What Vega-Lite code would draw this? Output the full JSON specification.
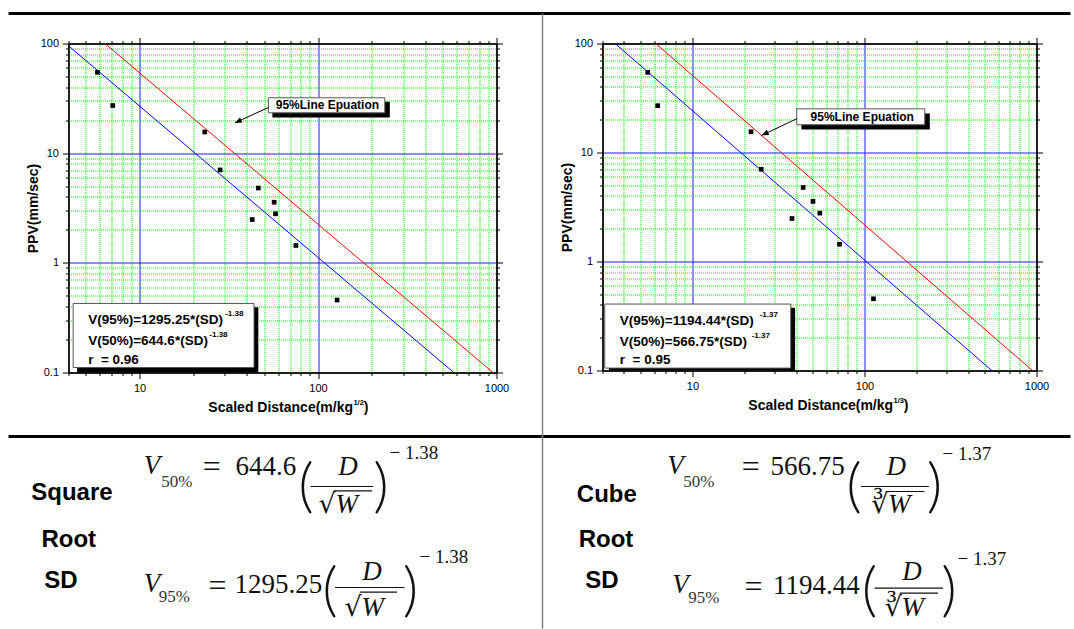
{
"$schema":"https://vega.github.io/schema/vega-lite/v6.json",
"padding":{"left":6.5,"top":10.5,"right":0,"bottom":0},
"background":"white",
"config":{"font":"Liberation Sans","view":{"stroke":null}},
"datasets":{
"sqrtPoints":[{"sd":5.81,"ppv":54.6},{"sd":7.08,"ppv":27.2},{"sd":23.2,"ppv":15.6},{"sd":28.3,"ppv":7.03},{"sd":46.3,"ppv":4.81},{"sd":42.8,"ppv":2.48},{"sd":56.8,"ppv":3.57},{"sd":57.8,"ppv":2.8},{"sd":75.2,"ppv":1.44},{"sd":127.9,"ppv":0.458}],
"sqrtLines":[{"series":"50%","sd":4,"ppv":95.2},{"series":"50%","sd":576,"ppv":0.1},{"series":"95%","sd":6.4,"ppv":100},{"series":"95%","sd":954.8,"ppv":0.1}],
"cubePoints":[{"sd":5.5,"ppv":54.4},{"sd":6.28,"ppv":26.9},{"sd":21.9,"ppv":15.5},{"sd":25.1,"ppv":7.02},{"sd":44.0,"ppv":4.78},{"sd":37.9,"ppv":2.48},{"sd":50.2,"ppv":3.56},{"sd":55.0,"ppv":2.78},{"sd":71.6,"ppv":1.44},{"sd":112.8,"ppv":0.455}],
"cubeLines":[{"series":"50%","sd":3.55,"ppv":100},{"series":"50%","sd":549.3,"ppv":0.1},{"series":"95%","sd":6.11,"ppv":100},{"series":"95%","sd":946,"ppv":0.1}]
},
"columns":2,
"spacing":{"row":62,"column":106},
"bounds":"flush",
"align":"each",
"resolve":{"scale":{"x":"independent","y":"independent","color":"independent"}},
"concat":[
{
"width":428,"height":329,
"view":{"stroke":"black","strokeWidth":1},
"resolve":{"axis":{"x":"independent","y":"independent"}},
"layer":[
{"data":{"name":"sqrtLines"},"mark":{"type":"line","strokeWidth":1},
"encoding":{
"x":{"field":"sd","type":"quantitative","scale":{"type":"log","domain":[4,1000],"nice":false},"axis":{"orient":"top","values":[4,5,6,7,8,9,10,20,30,40,50,60,70,80,90,100,200,300,400,500,600,700,800,900,1000],"labels":false,"grid":false,"tickColor":"black","tickSize":{"condition":{"test":"datum.value==10||datum.value==100||datum.value==1000","value":6},"value":3},"domainColor":"black","title":null}},
"y":{"field":"ppv","type":"quantitative","scale":{"type":"log","domain":[0.1,100],"nice":false},"axis":{"orient":"right","values":[0.1,0.2,0.3,0.4,0.5,0.6,0.7,0.8,0.9,1,2,3,4,5,6,7,8,9,10,20,30,40,50,60,70,80,90,100],"labels":false,"grid":false,"tickColor":"black","tickSize":{"condition":{"test":"datum.value==0.1||datum.value==1||datum.value==10||datum.value==100","value":6},"value":3},"domainColor":"black","title":null}},
"color":{"field":"series","type":"nominal","scale":{"domain":["50%","95%"],"range":["#0000ff","#ff0000"]},"legend":null}}},
{"data":{"name":"sqrtPoints"},"mark":{"type":"point","shape":"square","filled":true,"color":"black","size":22,"opacity":1},
"encoding":{
"x":{"field":"sd","type":"quantitative","scale":{"type":"log","domain":[4,1000],"nice":false},"axis":{"orient":"bottom","values":[4,5,6,7,8,9,10,20,30,40,50,60,70,80,90,100,200,300,400,500,600,700,800,900,1000],"format":"~g","labelExpr":"datum.value==10||datum.value==100||datum.value==1000?datum.label:''","labelFont":"Liberation Sans","labelFontSize":11,"labelColor":"black","labelPadding":4,"labelFlush":false,"labelOverlap":false,"grid":true,"gridColor":{"condition":[{"test":"datum.value==10||datum.value==100","value":"#1a1aff"},{"test":"datum.value==4||datum.value==1000","value":"#000000"}],"value":"#00ff00"},"gridDash":{"condition":{"test":"datum.value==10||datum.value==100||datum.value==4||datum.value==1000","value":[]},"value":[1,1]},"tickColor":"black","tickSize":{"condition":{"test":"datum.value==10||datum.value==100||datum.value==1000","value":6},"value":3},"domainColor":"black","title":null}},
"y":{"field":"ppv","type":"quantitative","scale":{"type":"log","domain":[0.1,100],"nice":false},"axis":{"orient":"left","values":[0.1,0.2,0.3,0.4,0.5,0.6,0.7,0.8,0.9,1,2,3,4,5,6,7,8,9,10,20,30,40,50,60,70,80,90,100],"format":"~g","labelExpr":"datum.value==0.1||datum.value==1||datum.value==10||datum.value==100?datum.label:''","labelFont":"Liberation Sans","labelFontSize":11,"labelColor":"black","labelPadding":4,"labelFlush":false,"labelOverlap":false,"grid":true,"gridColor":{"condition":[{"test":"datum.value==1||datum.value==10","value":"#1a1aff"},{"test":"datum.value==0.1||datum.value==100","value":"#000000"}],"value":"#00ff00"},"gridDash":{"condition":{"test":"datum.value==1||datum.value==10||datum.value==0.1||datum.value==100","value":[]},"value":[1,1]},"tickColor":"black","tickSize":{"condition":{"test":"datum.value==0.1||datum.value==1||datum.value==10||datum.value==100","value":6},"value":3},"domainColor":"black","title":"PPV(mm/sec)","titleFont":"Liberation Sans","titleFontSize":14,"titleFontWeight":"bold","titleColor":"black","titlePadding":0}}}},
{"data":{"values":[{}]},"mark":{"type":"rule","color":"black","strokeWidth":3},"encoding":{"x":{"datum":1.845,"type":"quantitative","scale":{"type":"log","domain":[4,1000],"nice":false},"axis":null},"x2":{"datum":1643600},"y":{"datum":187.8,"type":"quantitative","scale":{"type":"log","domain":[0.1,100],"nice":false},"axis":null}}},
{"data":{"values":[{}]},"mark":{"type":"rule","color":"black","strokeWidth":3},"encoding":{"x":{"datum":1.845,"type":"quantitative","scale":{"type":"log","domain":[4,1000],"nice":false},"axis":null},"x2":{"datum":1643600},"y":{"datum":0.026094,"type":"quantitative","scale":{"type":"log","domain":[0.1,100],"nice":false},"axis":null}}},
{"data":{"values":[{}]},"mark":{"type":"rule","color":"#808080","strokeWidth":1.5},"encoding":{"x":{"datum":1810.1,"type":"quantitative","scale":{"type":"log","domain":[4,1000],"nice":false},"axis":null},"y":{"datum":187.8,"type":"quantitative","scale":{"type":"log","domain":[0.1,100],"nice":false},"axis":null},"y2":{"datum":0.0004632}}},
{"data":{"values":[{}]},"mark":{"type":"rect","color":"black"},"encoding":{"x":{"datum":4.47,"type":"quantitative","scale":{"type":"log","domain":[4,1000],"nice":false},"axis":null},"x2":{"datum":46.3},"y":{"datum":0.3943,"type":"quantitative","scale":{"type":"log","domain":[0.1,100],"nice":false},"axis":null},"y2":{"datum":0.1}}},
{"data":{"values":[{}]},"mark":{"type":"rect","fill":"white","stroke":"#555555","strokeWidth":1},"encoding":{"x":{"datum":4.25,"type":"quantitative","scale":{"type":"log","domain":[4,1000],"nice":false},"axis":null},"x2":{"datum":43.8},"y":{"datum":0.4263,"type":"quantitative","scale":{"type":"log","domain":[0.1,100],"nice":false},"axis":null},"y2":{"datum":0.1111}}},
{"data":{"values":[{}]},"mark":{"type":"text","text":"V(95%)=1295.25*(SD)","font":"Liberation Sans","fontWeight":"bold","fontSize":13.5,"align":"left","baseline":"middle","color":"black"},"encoding":{"x":{"datum":5.157,"type":"quantitative","scale":{"type":"log","domain":[4,1000],"nice":false},"axis":null},"y":{"datum":0.304,"type":"quantitative","scale":{"type":"log","domain":[0.1,100],"nice":false},"axis":null}}},
{"data":{"values":[{}]},"mark":{"type":"text","text":"V(50%)=644.6*(SD)","font":"Liberation Sans","fontWeight":"bold","fontSize":13.5,"align":"left","baseline":"middle","color":"black"},"encoding":{"x":{"datum":5.157,"type":"quantitative","scale":{"type":"log","domain":[4,1000],"nice":false},"axis":null},"y":{"datum":0.1924,"type":"quantitative","scale":{"type":"log","domain":[0.1,100],"nice":false},"axis":null}}},
{"data":{"values":[{}]},"mark":{"type":"text","text":"r \u00a0= 0.96","font":"Liberation Sans","fontWeight":"bold","fontSize":13.5,"align":"left","baseline":"middle","color":"black"},"encoding":{"x":{"datum":5.157,"type":"quantitative","scale":{"type":"log","domain":[4,1000],"nice":false},"axis":null},"y":{"datum":0.1307,"type":"quantitative","scale":{"type":"log","domain":[0.1,100],"nice":false},"axis":null}}},
{"data":{"values":[{}]},"mark":{"type":"text","text":"-1.38","font":"Liberation Sans","fontWeight":"bold","fontSize":8,"align":"left","baseline":"middle","color":"black"},"encoding":{"x":{"datum":30.2,"type":"quantitative","scale":{"type":"log","domain":[4,1000],"nice":false},"axis":null},"y":{"datum":0.338,"type":"quantitative","scale":{"type":"log","domain":[0.1,100],"nice":false},"axis":null}}},
{"data":{"values":[{}]},"mark":{"type":"text","text":"-1.38","font":"Liberation Sans","fontWeight":"bold","fontSize":8,"align":"left","baseline":"middle","color":"black"},"encoding":{"x":{"datum":24.6,"type":"quantitative","scale":{"type":"log","domain":[4,1000],"nice":false},"axis":null},"y":{"datum":0.2216,"type":"quantitative","scale":{"type":"log","domain":[0.1,100],"nice":false},"axis":null}}},
{"data":{"values":[{}]},"mark":{"type":"rect","color":"black"},"encoding":{"x":{"datum":55.5,"type":"quantitative","scale":{"type":"log","domain":[4,1000],"nice":false},"axis":null},"x2":{"datum":252.5},"y":{"datum":29.4,"type":"quantitative","scale":{"type":"log","domain":[0.1,100],"nice":false},"axis":null},"y2":{"datum":21.2}}},
{"data":{"values":[{}]},"mark":{"type":"rect","fill":"white","stroke":"#555555","strokeWidth":1},"encoding":{"x":{"datum":52.7,"type":"quantitative","scale":{"type":"log","domain":[4,1000],"nice":false},"axis":null},"x2":{"datum":236.7},"y":{"datum":31.99,"type":"quantitative","scale":{"type":"log","domain":[0.1,100],"nice":false},"axis":null},"y2":{"datum":23.32}}},
{"data":{"values":[{}]},"mark":{"type":"text","text":"95%Line Epuation","font":"Liberation Sans","fontWeight":"bold","fontSize":12,"align":"center","baseline":"middle","color":"black"},"encoding":{"x":{"datum":112.9,"type":"quantitative","scale":{"type":"log","domain":[4,1000],"nice":false},"axis":null},"y":{"datum":27.25,"type":"quantitative","scale":{"type":"log","domain":[0.1,100],"nice":false},"axis":null}}},
{"data":{"values":[{}]},"mark":{"type":"rule","color":"black","strokeWidth":1},"encoding":{"x":{"datum":52.7,"type":"quantitative","scale":{"type":"log","domain":[4,1000],"nice":false},"axis":null},"x2":{"datum":34.2},"y":{"datum":26.1,"type":"quantitative","scale":{"type":"log","domain":[0.1,100],"nice":false},"axis":null},"y2":{"datum":18.88}}},
{"data":{"values":[{}]},"mark":{"type":"point","shape":"M0,0L-1,-0.4L-1,0.4Z","filled":true,"color":"black","opacity":1,"size":196,"angle":155},"encoding":{"x":{"datum":34.2,"type":"quantitative","scale":{"type":"log","domain":[4,1000],"nice":false},"axis":null},"y":{"datum":18.88,"type":"quantitative","scale":{"type":"log","domain":[0.1,100],"nice":false},"axis":null}}},
{"data":{"values":[{}]},"mark":{"type":"text","text":"Scaled Distance(m/kg","font":"Liberation Sans","fontWeight":"bold","fontSize":14,"align":"right","baseline":"middle","color":"black"},"encoding":{"x":{"datum":157.1,"type":"quantitative","scale":{"type":"log","domain":[4,1000],"nice":false},"axis":null},"y":{"datum":0.04777,"type":"quantitative","scale":{"type":"log","domain":[0.1,100],"nice":false},"axis":null}}},
{"data":{"values":[{}]},"mark":{"type":"text","text":"1/2","font":"Liberation Sans","fontWeight":"bold","fontSize":7.5,"align":"left","baseline":"middle","color":"black"},"encoding":{"x":{"datum":157.9,"type":"quantitative","scale":{"type":"log","domain":[4,1000],"nice":false},"axis":null},"y":{"datum":0.05232,"type":"quantitative","scale":{"type":"log","domain":[0.1,100],"nice":false},"axis":null}}},
{"data":{"values":[{}]},"mark":{"type":"text","text":")","font":"Liberation Sans","fontWeight":"bold","fontSize":14,"align":"left","baseline":"middle","color":"black"},"encoding":{"x":{"datum":180.4,"type":"quantitative","scale":{"type":"log","domain":[4,1000],"nice":false},"axis":null},"y":{"datum":0.04777,"type":"quantitative","scale":{"type":"log","domain":[0.1,100],"nice":false},"axis":null}}}
]
},
{
"width":434,"height":327,
"view":{"stroke":"black","strokeWidth":1},
"resolve":{"axis":{"x":"independent","y":"independent"}},
"layer":[
{"data":{"name":"cubeLines"},"mark":{"type":"line","strokeWidth":1},
"encoding":{
"x":{"field":"sd","type":"quantitative","scale":{"type":"log","domain":[3,1000],"nice":false},"axis":{"orient":"top","values":[3,4,5,6,7,8,9,10,20,30,40,50,60,70,80,90,100,200,300,400,500,600,700,800,900,1000],"labels":false,"grid":false,"tickColor":"black","tickSize":{"condition":{"test":"datum.value==10||datum.value==100||datum.value==1000","value":6},"value":3},"domainColor":"black","title":null}},
"y":{"field":"ppv","type":"quantitative","scale":{"type":"log","domain":[0.1,100],"nice":false},"axis":{"orient":"right","values":[0.1,0.2,0.3,0.4,0.5,0.6,0.7,0.8,0.9,1,2,3,4,5,6,7,8,9,10,20,30,40,50,60,70,80,90,100],"labels":false,"grid":false,"tickColor":"black","tickSize":{"condition":{"test":"datum.value==0.1||datum.value==1||datum.value==10||datum.value==100","value":6},"value":3},"domainColor":"black","title":null}},
"color":{"field":"series","type":"nominal","scale":{"domain":["50%","95%"],"range":["#0000ff","#ff0000"]},"legend":null}}},
{"data":{"name":"cubePoints"},"mark":{"type":"point","shape":"square","filled":true,"color":"black","size":22,"opacity":1},
"encoding":{
"x":{"field":"sd","type":"quantitative","scale":{"type":"log","domain":[3,1000],"nice":false},"axis":{"orient":"bottom","values":[3,4,5,6,7,8,9,10,20,30,40,50,60,70,80,90,100,200,300,400,500,600,700,800,900,1000],"format":"~g","labelExpr":"datum.value==10||datum.value==100||datum.value==1000?datum.label:''","labelFont":"Liberation Sans","labelFontSize":11,"labelColor":"black","labelPadding":4,"labelFlush":false,"labelOverlap":false,"grid":true,"gridColor":{"condition":[{"test":"datum.value==10||datum.value==100","value":"#1a1aff"},{"test":"datum.value==3||datum.value==1000","value":"#000000"}],"value":"#00ff00"},"gridDash":{"condition":{"test":"datum.value==10||datum.value==100||datum.value==3||datum.value==1000","value":[]},"value":[1,1]},"tickColor":"black","tickSize":{"condition":{"test":"datum.value==10||datum.value==100||datum.value==1000","value":6},"value":3},"domainColor":"black","title":null}},
"y":{"field":"ppv","type":"quantitative","scale":{"type":"log","domain":[0.1,100],"nice":false},"axis":{"orient":"left","values":[0.1,0.2,0.3,0.4,0.5,0.6,0.7,0.8,0.9,1,2,3,4,5,6,7,8,9,10,20,30,40,50,60,70,80,90,100],"format":"~g","labelExpr":"datum.value==0.1||datum.value==1||datum.value==10||datum.value==100?datum.label:''","labelFont":"Liberation Sans","labelFontSize":11,"labelColor":"black","labelPadding":4,"labelFlush":false,"labelOverlap":false,"grid":true,"gridColor":{"condition":[{"test":"datum.value==1||datum.value==10","value":"#1a1aff"},{"test":"datum.value==0.1||datum.value==100","value":"#000000"}],"value":"#00ff00"},"gridDash":{"condition":{"test":"datum.value==1||datum.value==10||datum.value==0.1||datum.value==100","value":[]},"value":[1,1]},"tickColor":"black","tickSize":{"condition":{"test":"datum.value==0.1||datum.value==1||datum.value==10||datum.value==100","value":6},"value":3},"domainColor":"black","title":"PPV(mm/sec)","titleFont":"Liberation Sans","titleFontSize":14,"titleFontWeight":"bold","titleColor":"black","titlePadding":0}}}},
{"data":{"values":[{}]},"mark":{"type":"rect","color":"black"},"encoding":{"x":{"datum":3.27,"type":"quantitative","scale":{"type":"log","domain":[3,1000],"nice":false},"axis":null},"x2":{"datum":39.5},"y":{"datum":0.3763,"type":"quantitative","scale":{"type":"log","domain":[0.1,100],"nice":false},"axis":null},"y2":{"datum":0.1}}},
{"data":{"values":[{}]},"mark":{"type":"rect","fill":"white","stroke":"#555555","strokeWidth":1},"encoding":{"x":{"datum":3.09,"type":"quantitative","scale":{"type":"log","domain":[3,1000],"nice":false},"axis":null},"x2":{"datum":37.27},"y":{"datum":0.407,"type":"quantitative","scale":{"type":"log","domain":[0.1,100],"nice":false},"axis":null},"y2":{"datum":0.1052}}},
{"data":{"values":[{}]},"mark":{"type":"text","text":"V(95%)=1194.44*(SD)","font":"Liberation Sans","fontWeight":"bold","fontSize":13.5,"align":"left","baseline":"middle","color":"black"},"encoding":{"x":{"datum":3.78,"type":"quantitative","scale":{"type":"log","domain":[3,1000],"nice":false},"axis":null},"y":{"datum":0.2847,"type":"quantitative","scale":{"type":"log","domain":[0.1,100],"nice":false},"axis":null}}},
{"data":{"values":[{}]},"mark":{"type":"text","text":"V(50%)=566.75*(SD)","font":"Liberation Sans","fontWeight":"bold","fontSize":13.5,"align":"left","baseline":"middle","color":"black"},"encoding":{"x":{"datum":3.78,"type":"quantitative","scale":{"type":"log","domain":[3,1000],"nice":false},"axis":null},"y":{"datum":0.1843,"type":"quantitative","scale":{"type":"log","domain":[0.1,100],"nice":false},"axis":null}}},
{"data":{"values":[{}]},"mark":{"type":"text","text":"r \u00a0= 0.95","font":"Liberation Sans","fontWeight":"bold","fontSize":13.5,"align":"left","baseline":"middle","color":"black"},"encoding":{"x":{"datum":3.78,"type":"quantitative","scale":{"type":"log","domain":[3,1000],"nice":false},"axis":null},"y":{"datum":0.1237,"type":"quantitative","scale":{"type":"log","domain":[0.1,100],"nice":false},"axis":null}}},
{"data":{"values":[{}]},"mark":{"type":"text","text":"-1.37","font":"Liberation Sans","fontWeight":"bold","fontSize":8,"align":"left","baseline":"middle","color":"black"},"encoding":{"x":{"datum":24.6,"type":"quantitative","scale":{"type":"log","domain":[3,1000],"nice":false},"axis":null},"y":{"datum":0.3229,"type":"quantitative","scale":{"type":"log","domain":[0.1,100],"nice":false},"axis":null}}},
{"data":{"values":[{}]},"mark":{"type":"text","text":"-1.37","font":"Liberation Sans","fontWeight":"bold","fontSize":8,"align":"left","baseline":"middle","color":"black"},"encoding":{"x":{"datum":22.1,"type":"quantitative","scale":{"type":"log","domain":[3,1000],"nice":false},"axis":null},"y":{"datum":0.2078,"type":"quantitative","scale":{"type":"log","domain":[0.1,100],"nice":false},"axis":null}}},
{"data":{"values":[{}]},"mark":{"type":"rect","color":"black"},"encoding":{"x":{"datum":43.0,"type":"quantitative","scale":{"type":"log","domain":[3,1000],"nice":false},"axis":null},"x2":{"datum":239.8},"y":{"datum":22.79,"type":"quantitative","scale":{"type":"log","domain":[0.1,100],"nice":false},"axis":null},"y2":{"datum":16.28}}},
{"data":{"values":[{}]},"mark":{"type":"rect","fill":"white","stroke":"#555555","strokeWidth":1},"encoding":{"x":{"datum":40.4,"type":"quantitative","scale":{"type":"log","domain":[3,1000],"nice":false},"axis":null},"x2":{"datum":224.2},"y":{"datum":25.15,"type":"quantitative","scale":{"type":"log","domain":[0.1,100],"nice":false},"axis":null},"y2":{"datum":17.97}}},
{"data":{"values":[{}]},"mark":{"type":"text","text":"95%Line Epuation","font":"Liberation Sans","fontWeight":"bold","fontSize":12,"align":"center","baseline":"middle","color":"black"},"encoding":{"x":{"datum":97.1,"type":"quantitative","scale":{"type":"log","domain":[3,1000],"nice":false},"axis":null},"y":{"datum":21.13,"type":"quantitative","scale":{"type":"log","domain":[0.1,100],"nice":false},"axis":null}}},
{"data":{"values":[{}]},"mark":{"type":"rule","color":"black","strokeWidth":1},"encoding":{"x":{"datum":40.4,"type":"quantitative","scale":{"type":"log","domain":[3,1000],"nice":false},"axis":null},"x2":{"datum":25.28},"y":{"datum":20.39,"type":"quantitative","scale":{"type":"log","domain":[0.1,100],"nice":false},"axis":null},"y2":{"datum":14.36}}},
{"data":{"values":[{}]},"mark":{"type":"point","shape":"M0,0L-1,-0.4L-1,0.4Z","filled":true,"color":"black","opacity":1,"size":196,"angle":154.5},"encoding":{"x":{"datum":25.28,"type":"quantitative","scale":{"type":"log","domain":[3,1000],"nice":false},"axis":null},"y":{"datum":14.36,"type":"quantitative","scale":{"type":"log","domain":[0.1,100],"nice":false},"axis":null}}},
{"data":{"values":[{}]},"mark":{"type":"text","text":"Scaled Distance(m/kg","font":"Liberation Sans","fontWeight":"bold","fontSize":14,"align":"right","baseline":"middle","color":"black"},"encoding":{"x":{"datum":146.7,"type":"quantitative","scale":{"type":"log","domain":[3,1000],"nice":false},"axis":null},"y":{"datum":0.04702,"type":"quantitative","scale":{"type":"log","domain":[0.1,100],"nice":false},"axis":null}}},
{"data":{"values":[{}]},"mark":{"type":"text","text":"1/3","font":"Liberation Sans","fontWeight":"bold","fontSize":7.5,"align":"left","baseline":"middle","color":"black"},"encoding":{"x":{"datum":147.4,"type":"quantitative","scale":{"type":"log","domain":[3,1000],"nice":false},"axis":null},"y":{"datum":0.05225,"type":"quantitative","scale":{"type":"log","domain":[0.1,100],"nice":false},"axis":null}}},
{"data":{"values":[{}]},"mark":{"type":"text","text":")","font":"Liberation Sans","fontWeight":"bold","fontSize":14,"align":"left","baseline":"middle","color":"black"},"encoding":{"x":{"datum":169.2,"type":"quantitative","scale":{"type":"log","domain":[3,1000],"nice":false},"axis":null},"y":{"datum":0.04702,"type":"quantitative","scale":{"type":"log","domain":[0.1,100],"nice":false},"axis":null}}}
]
},
{
"width":428,"height":190,
"view":{"stroke":null},
"data":{"values":[{}]},
"layer":[
{"mark":{"type":"text","text":"Square","font":"Liberation Sans","fontWeight":"bold","fontSize":24,"align":"center","baseline":"alphabetic","color":"black"},"encoding":{"x":{"datum":3.4,"type":"quantitative","scale":{"domain":[0,428],"nice":false,"zero":false},"axis":null},"y":{"datum":65.3,"type":"quantitative","scale":{"domain":[0,190],"reverse":true,"nice":false,"zero":false},"axis":null}}},
{"mark":{"type":"text","text":"Root","font":"Liberation Sans","fontWeight":"bold","fontSize":24,"align":"center","baseline":"alphabetic","color":"black"},"encoding":{"x":{"datum":0.3,"type":"quantitative","scale":{"domain":[0,428],"nice":false,"zero":false},"axis":null},"y":{"datum":112,"type":"quantitative","scale":{"domain":[0,190],"reverse":true,"nice":false,"zero":false},"axis":null}}},
{"mark":{"type":"text","text":"SD","font":"Liberation Sans","fontWeight":"bold","fontSize":24,"align":"center","baseline":"alphabetic","color":"black"},"encoding":{"x":{"datum":-7.7,"type":"quantitative","scale":{"domain":[0,428],"nice":false,"zero":false},"axis":null},"y":{"datum":153.7,"type":"quantitative","scale":{"domain":[0,190],"reverse":true,"nice":false,"zero":false},"axis":null}}},
{"mark":{"type":"text","text":"V","font":"Liberation Serif","fontStyle":"italic","fontSize":27,"align":"left","baseline":"alphabetic","color":"#111111"},"encoding":{"x":{"datum":75.3,"type":"quantitative","scale":{"domain":[0,428],"nice":false,"zero":false},"axis":null},"y":{"datum":39.7,"type":"quantitative","scale":{"domain":[0,190],"reverse":true,"nice":false,"zero":false},"axis":null}}},
{"mark":{"type":"text","text":"50%","font":"Liberation Serif","fontSize":17,"align":"left","baseline":"alphabetic","color":"#333333"},"encoding":{"x":{"datum":92.7,"type":"quantitative","scale":{"domain":[0,428],"nice":false,"zero":false},"axis":null},"y":{"datum":52,"type":"quantitative","scale":{"domain":[0,190],"reverse":true,"nice":false,"zero":false},"axis":null}}},
{"mark":{"type":"text","text":"=","font":"Liberation Serif","fontSize":32,"align":"center","baseline":"middle","color":"#111111"},"encoding":{"x":{"datum":143.2,"type":"quantitative","scale":{"domain":[0,428],"nice":false,"zero":false},"axis":null},"y":{"datum":32,"type":"quantitative","scale":{"domain":[0,190],"reverse":true,"nice":false,"zero":false},"axis":null}}},
{"mark":{"type":"text","text":"644.6","font":"Liberation Serif","fontSize":27,"align":"left","baseline":"alphabetic","color":"#111111"},"encoding":{"x":{"datum":167,"type":"quantitative","scale":{"domain":[0,428],"nice":false,"zero":false},"axis":null},"y":{"datum":40.3,"type":"quantitative","scale":{"domain":[0,190],"reverse":true,"nice":false,"zero":false},"axis":null}}},
{"mark":{"type":"text","text":"(","font":"Lato","fontWeight":300,"fontSize":60,"align":"center","baseline":"middle","color":"#111111"},"encoding":{"x":{"datum":237.5,"type":"quantitative","scale":{"domain":[0,428],"nice":false,"zero":false},"axis":null},"y":{"datum":53.7,"type":"quantitative","scale":{"domain":[0,190],"reverse":true,"nice":false,"zero":false},"axis":null}}},
{"mark":{"type":"text","text":"D","font":"Liberation Serif","fontStyle":"italic","fontSize":27,"align":"center","baseline":"alphabetic","color":"#111111"},"encoding":{"x":{"datum":279.5,"type":"quantitative","scale":{"domain":[0,428],"nice":false,"zero":false},"axis":null},"y":{"datum":40.3,"type":"quantitative","scale":{"domain":[0,190],"reverse":true,"nice":false,"zero":false},"axis":null}}},
{"mark":{"type":"rule","color":"#111111","strokeWidth":1.2},"encoding":{"x":{"datum":242,"type":"quantitative","scale":{"domain":[0,428],"nice":false,"zero":false},"axis":null},"x2":{"datum":304.7},"y":{"datum":52,"type":"quantitative","scale":{"domain":[0,190],"reverse":true,"nice":false,"zero":false},"axis":null}}},
{"mark":{"type":"text","text":"√","font":"DejaVu Serif","fontSize":27,"align":"left","baseline":"alphabetic","color":"#111111"},"encoding":{"x":{"datum":250,"type":"quantitative","scale":{"domain":[0,428],"nice":false,"zero":false},"axis":null},"y":{"datum":78,"type":"quantitative","scale":{"domain":[0,190],"reverse":true,"nice":false,"zero":false},"axis":null}}},
{"mark":{"type":"text","text":"W","font":"Liberation Serif","fontStyle":"italic","fontSize":27,"align":"left","baseline":"alphabetic","color":"#111111"},"encoding":{"x":{"datum":267,"type":"quantitative","scale":{"domain":[0,428],"nice":false,"zero":false},"axis":null},"y":{"datum":78,"type":"quantitative","scale":{"domain":[0,190],"reverse":true,"nice":false,"zero":false},"axis":null}}},
{"mark":{"type":"rule","color":"#111111","strokeWidth":1.2},"encoding":{"x":{"datum":265.3,"type":"quantitative","scale":{"domain":[0,428],"nice":false,"zero":false},"axis":null},"x2":{"datum":303.5},"y":{"datum":56.3,"type":"quantitative","scale":{"domain":[0,190],"reverse":true,"nice":false,"zero":false},"axis":null}}},
{"mark":{"type":"text","text":")","font":"Lato","fontWeight":300,"fontSize":60,"align":"center","baseline":"middle","color":"#111111"},"encoding":{"x":{"datum":312.4,"type":"quantitative","scale":{"domain":[0,428],"nice":false,"zero":false},"axis":null},"y":{"datum":53.7,"type":"quantitative","scale":{"domain":[0,190],"reverse":true,"nice":false,"zero":false},"axis":null}}},
{"mark":{"type":"text","text":"− 1.38","font":"Liberation Serif","fontSize":19,"align":"left","baseline":"alphabetic","color":"#111111"},"encoding":{"x":{"datum":321,"type":"quantitative","scale":{"domain":[0,428],"nice":false,"zero":false},"axis":null},"y":{"datum":24.7,"type":"quantitative","scale":{"domain":[0,190],"reverse":true,"nice":false,"zero":false},"axis":null}}},
{"mark":{"type":"text","text":"V","font":"Liberation Serif","fontStyle":"italic","fontSize":27,"align":"left","baseline":"alphabetic","color":"#111111"},"encoding":{"x":{"datum":75.3,"type":"quantitative","scale":{"domain":[0,428],"nice":false,"zero":false},"axis":null},"y":{"datum":157,"type":"quantitative","scale":{"domain":[0,190],"reverse":true,"nice":false,"zero":false},"axis":null}}},
{"mark":{"type":"text","text":"95%","font":"Liberation Serif","fontSize":17,"align":"left","baseline":"alphabetic","color":"#333333"},"encoding":{"x":{"datum":90.3,"type":"quantitative","scale":{"domain":[0,428],"nice":false,"zero":false},"axis":null},"y":{"datum":167.7,"type":"quantitative","scale":{"domain":[0,190],"reverse":true,"nice":false,"zero":false},"axis":null}}},
{"mark":{"type":"text","text":"=","font":"Liberation Serif","fontSize":32,"align":"center","baseline":"middle","color":"#111111"},"encoding":{"x":{"datum":149,"type":"quantitative","scale":{"domain":[0,428],"nice":false,"zero":false},"axis":null},"y":{"datum":151,"type":"quantitative","scale":{"domain":[0,190],"reverse":true,"nice":false,"zero":false},"axis":null}}},
{"mark":{"type":"text","text":"1295.25","font":"Liberation Serif","fontSize":27,"align":"left","baseline":"alphabetic","color":"#111111"},"encoding":{"x":{"datum":166,"type":"quantitative","scale":{"domain":[0,428],"nice":false,"zero":false},"axis":null},"y":{"datum":158,"type":"quantitative","scale":{"domain":[0,190],"reverse":true,"nice":false,"zero":false},"axis":null}}},
{"mark":{"type":"text","text":"(","font":"Lato","fontWeight":300,"fontSize":60,"align":"center","baseline":"middle","color":"#111111"},"encoding":{"x":{"datum":261.5,"type":"quantitative","scale":{"domain":[0,428],"nice":false,"zero":false},"axis":null},"y":{"datum":157,"type":"quantitative","scale":{"domain":[0,190],"reverse":true,"nice":false,"zero":false},"axis":null}}},
{"mark":{"type":"text","text":"D","font":"Liberation Serif","fontStyle":"italic","fontSize":27,"align":"center","baseline":"alphabetic","color":"#111111"},"encoding":{"x":{"datum":303.5,"type":"quantitative","scale":{"domain":[0,428],"nice":false,"zero":false},"axis":null},"y":{"datum":145.3,"type":"quantitative","scale":{"domain":[0,190],"reverse":true,"nice":false,"zero":false},"axis":null}}},
{"mark":{"type":"rule","color":"#111111","strokeWidth":1.2},"encoding":{"x":{"datum":266.5,"type":"quantitative","scale":{"domain":[0,428],"nice":false,"zero":false},"axis":null},"x2":{"datum":336},"y":{"datum":153,"type":"quantitative","scale":{"domain":[0,190],"reverse":true,"nice":false,"zero":false},"axis":null}}},
{"mark":{"type":"text","text":"√","font":"DejaVu Serif","fontSize":27,"align":"left","baseline":"alphabetic","color":"#111111"},"encoding":{"x":{"datum":276,"type":"quantitative","scale":{"domain":[0,428],"nice":false,"zero":false},"axis":null},"y":{"datum":181,"type":"quantitative","scale":{"domain":[0,190],"reverse":true,"nice":false,"zero":false},"axis":null}}},
{"mark":{"type":"text","text":"W","font":"Liberation Serif","fontStyle":"italic","fontSize":27,"align":"left","baseline":"alphabetic","color":"#111111"},"encoding":{"x":{"datum":293,"type":"quantitative","scale":{"domain":[0,428],"nice":false,"zero":false},"axis":null},"y":{"datum":181,"type":"quantitative","scale":{"domain":[0,190],"reverse":true,"nice":false,"zero":false},"axis":null}}},
{"mark":{"type":"rule","color":"#111111","strokeWidth":1.2},"encoding":{"x":{"datum":291.3,"type":"quantitative","scale":{"domain":[0,428],"nice":false,"zero":false},"axis":null},"x2":{"datum":328.5},"y":{"datum":157.7,"type":"quantitative","scale":{"domain":[0,190],"reverse":true,"nice":false,"zero":false},"axis":null}}},
{"mark":{"type":"text","text":")","font":"Lato","fontWeight":300,"fontSize":60,"align":"center","baseline":"middle","color":"#111111"},"encoding":{"x":{"datum":342,"type":"quantitative","scale":{"domain":[0,428],"nice":false,"zero":false},"axis":null},"y":{"datum":157,"type":"quantitative","scale":{"domain":[0,190],"reverse":true,"nice":false,"zero":false},"axis":null}}},
{"mark":{"type":"text","text":"− 1.38","font":"Liberation Serif","fontSize":19,"align":"left","baseline":"alphabetic","color":"#111111"},"encoding":{"x":{"datum":351,"type":"quantitative","scale":{"domain":[0,428],"nice":false,"zero":false},"axis":null},"y":{"datum":128,"type":"quantitative","scale":{"domain":[0,190],"reverse":true,"nice":false,"zero":false},"axis":null}}}
]
},
{
"width":434,"height":190,
"view":{"stroke":null},
"data":{"values":[{}]},
"layer":[
{"mark":{"type":"text","text":"Cube","font":"Liberation Sans","fontWeight":"bold","fontSize":24,"align":"center","baseline":"alphabetic","color":"black"},"encoding":{"x":{"datum":4.3,"type":"quantitative","scale":{"domain":[0,434],"nice":false,"zero":false},"axis":null},"y":{"datum":67,"type":"quantitative","scale":{"domain":[0,190],"reverse":true,"nice":false,"zero":false},"axis":null}}},
{"mark":{"type":"text","text":"Root","font":"Liberation Sans","fontWeight":"bold","fontSize":24,"align":"center","baseline":"alphabetic","color":"black"},"encoding":{"x":{"datum":3.5,"type":"quantitative","scale":{"domain":[0,434],"nice":false,"zero":false},"axis":null},"y":{"datum":112,"type":"quantitative","scale":{"domain":[0,190],"reverse":true,"nice":false,"zero":false},"axis":null}}},
{"mark":{"type":"text","text":"SD","font":"Liberation Sans","fontWeight":"bold","fontSize":24,"align":"center","baseline":"alphabetic","color":"black"},"encoding":{"x":{"datum":-0.7,"type":"quantitative","scale":{"domain":[0,434],"nice":false,"zero":false},"axis":null},"y":{"datum":153.7,"type":"quantitative","scale":{"domain":[0,190],"reverse":true,"nice":false,"zero":false},"axis":null}}},
{"mark":{"type":"text","text":"V","font":"Liberation Serif","fontStyle":"italic","fontSize":27,"align":"left","baseline":"alphabetic","color":"#111111"},"encoding":{"x":{"datum":64.7,"type":"quantitative","scale":{"domain":[0,434],"nice":false,"zero":false},"axis":null},"y":{"datum":39.7,"type":"quantitative","scale":{"domain":[0,190],"reverse":true,"nice":false,"zero":false},"axis":null}}},
{"mark":{"type":"text","text":"50%","font":"Liberation Serif","fontSize":17,"align":"left","baseline":"alphabetic","color":"#333333"},"encoding":{"x":{"datum":80.7,"type":"quantitative","scale":{"domain":[0,434],"nice":false,"zero":false},"axis":null},"y":{"datum":52,"type":"quantitative","scale":{"domain":[0,190],"reverse":true,"nice":false,"zero":false},"axis":null}}},
{"mark":{"type":"text","text":"=","font":"Liberation Serif","fontSize":32,"align":"center","baseline":"middle","color":"#111111"},"encoding":{"x":{"datum":148.3,"type":"quantitative","scale":{"domain":[0,434],"nice":false,"zero":false},"axis":null},"y":{"datum":32.7,"type":"quantitative","scale":{"domain":[0,190],"reverse":true,"nice":false,"zero":false},"axis":null}}},
{"mark":{"type":"text","text":"566.75","font":"Liberation Serif","fontSize":27,"align":"left","baseline":"alphabetic","color":"#111111"},"encoding":{"x":{"datum":168,"type":"quantitative","scale":{"domain":[0,434],"nice":false,"zero":false},"axis":null},"y":{"datum":40.3,"type":"quantitative","scale":{"domain":[0,190],"reverse":true,"nice":false,"zero":false},"axis":null}}},
{"mark":{"type":"text","text":"(","font":"Lato","fontWeight":300,"fontSize":60,"align":"center","baseline":"middle","color":"#111111"},"encoding":{"x":{"datum":251.5,"type":"quantitative","scale":{"domain":[0,434],"nice":false,"zero":false},"axis":null},"y":{"datum":53.7,"type":"quantitative","scale":{"domain":[0,190],"reverse":true,"nice":false,"zero":false},"axis":null}}},
{"mark":{"type":"text","text":"D","font":"Liberation Serif","fontStyle":"italic","fontSize":27,"align":"center","baseline":"alphabetic","color":"#111111"},"encoding":{"x":{"datum":293.8,"type":"quantitative","scale":{"domain":[0,434],"nice":false,"zero":false},"axis":null},"y":{"datum":40.3,"type":"quantitative","scale":{"domain":[0,190],"reverse":true,"nice":false,"zero":false},"axis":null}}},
{"mark":{"type":"rule","color":"#111111","strokeWidth":1.2},"encoding":{"x":{"datum":258.5,"type":"quantitative","scale":{"domain":[0,434],"nice":false,"zero":false},"axis":null},"x2":{"datum":326.3},"y":{"datum":52,"type":"quantitative","scale":{"domain":[0,190],"reverse":true,"nice":false,"zero":false},"axis":null}}},
{"mark":{"type":"text","text":"∛","font":"DejaVu Serif","fontSize":27,"align":"left","baseline":"alphabetic","color":"#111111"},"encoding":{"x":{"datum":268.5,"type":"quantitative","scale":{"domain":[0,434],"nice":false,"zero":false},"axis":null},"y":{"datum":78.7,"type":"quantitative","scale":{"domain":[0,190],"reverse":true,"nice":false,"zero":false},"axis":null}}},
{"mark":{"type":"text","text":"W","font":"Liberation Serif","fontStyle":"italic","fontSize":27,"align":"left","baseline":"alphabetic","color":"#111111"},"encoding":{"x":{"datum":285.5,"type":"quantitative","scale":{"domain":[0,434],"nice":false,"zero":false},"axis":null},"y":{"datum":78.7,"type":"quantitative","scale":{"domain":[0,190],"reverse":true,"nice":false,"zero":false},"axis":null}}},
{"mark":{"type":"rule","color":"#111111","strokeWidth":1.2},"encoding":{"x":{"datum":283.8,"type":"quantitative","scale":{"domain":[0,434],"nice":false,"zero":false},"axis":null},"x2":{"datum":322},"y":{"datum":57,"type":"quantitative","scale":{"domain":[0,190],"reverse":true,"nice":false,"zero":false},"axis":null}}},
{"mark":{"type":"text","text":")","font":"Lato","fontWeight":300,"fontSize":60,"align":"center","baseline":"middle","color":"#111111"},"encoding":{"x":{"datum":332,"type":"quantitative","scale":{"domain":[0,434],"nice":false,"zero":false},"axis":null},"y":{"datum":53.7,"type":"quantitative","scale":{"domain":[0,190],"reverse":true,"nice":false,"zero":false},"axis":null}}},
{"mark":{"type":"text","text":"− 1.37","font":"Liberation Serif","fontSize":19,"align":"left","baseline":"alphabetic","color":"#111111"},"encoding":{"x":{"datum":340,"type":"quantitative","scale":{"domain":[0,434],"nice":false,"zero":false},"axis":null},"y":{"datum":25.3,"type":"quantitative","scale":{"domain":[0,190],"reverse":true,"nice":false,"zero":false},"axis":null}}},
{"mark":{"type":"text","text":"V","font":"Liberation Serif","fontStyle":"italic","fontSize":27,"align":"left","baseline":"alphabetic","color":"#111111"},"encoding":{"x":{"datum":69.7,"type":"quantitative","scale":{"domain":[0,434],"nice":false,"zero":false},"axis":null},"y":{"datum":158.7,"type":"quantitative","scale":{"domain":[0,190],"reverse":true,"nice":false,"zero":false},"axis":null}}},
{"mark":{"type":"text","text":"95%","font":"Liberation Serif","fontSize":17,"align":"left","baseline":"alphabetic","color":"#333333"},"encoding":{"x":{"datum":85.7,"type":"quantitative","scale":{"domain":[0,434],"nice":false,"zero":false},"axis":null},"y":{"datum":168.7,"type":"quantitative","scale":{"domain":[0,190],"reverse":true,"nice":false,"zero":false},"axis":null}}},
{"mark":{"type":"text","text":"=","font":"Liberation Serif","fontSize":32,"align":"center","baseline":"middle","color":"#111111"},"encoding":{"x":{"datum":151,"type":"quantitative","scale":{"domain":[0,434],"nice":false,"zero":false},"axis":null},"y":{"datum":152.7,"type":"quantitative","scale":{"domain":[0,190],"reverse":true,"nice":false,"zero":false},"axis":null}}},
{"mark":{"type":"text","text":"1194.44","font":"Liberation Serif","fontSize":27,"align":"left","baseline":"alphabetic","color":"#111111"},"encoding":{"x":{"datum":170.5,"type":"quantitative","scale":{"domain":[0,434],"nice":false,"zero":false},"axis":null},"y":{"datum":159.3,"type":"quantitative","scale":{"domain":[0,190],"reverse":true,"nice":false,"zero":false},"axis":null}}},
{"mark":{"type":"text","text":"(","font":"Lato","fontWeight":300,"fontSize":60,"align":"center","baseline":"middle","color":"#111111"},"encoding":{"x":{"datum":267,"type":"quantitative","scale":{"domain":[0,434],"nice":false,"zero":false},"axis":null},"y":{"datum":157.5,"type":"quantitative","scale":{"domain":[0,190],"reverse":true,"nice":false,"zero":false},"axis":null}}},
{"mark":{"type":"text","text":"D","font":"Liberation Serif","fontStyle":"italic","fontSize":27,"align":"center","baseline":"alphabetic","color":"#111111"},"encoding":{"x":{"datum":309.5,"type":"quantitative","scale":{"domain":[0,434],"nice":false,"zero":false},"axis":null},"y":{"datum":145.3,"type":"quantitative","scale":{"domain":[0,190],"reverse":true,"nice":false,"zero":false},"axis":null}}},
{"mark":{"type":"rule","color":"#111111","strokeWidth":1.2},"encoding":{"x":{"datum":272,"type":"quantitative","scale":{"domain":[0,434],"nice":false,"zero":false},"axis":null},"x2":{"datum":340.5},"y":{"datum":153.7,"type":"quantitative","scale":{"domain":[0,190],"reverse":true,"nice":false,"zero":false},"axis":null}}},
{"mark":{"type":"text","text":"∛","font":"DejaVu Serif","fontSize":27,"align":"left","baseline":"alphabetic","color":"#111111"},"encoding":{"x":{"datum":282,"type":"quantitative","scale":{"domain":[0,434],"nice":false,"zero":false},"axis":null},"y":{"datum":181.3,"type":"quantitative","scale":{"domain":[0,190],"reverse":true,"nice":false,"zero":false},"axis":null}}},
{"mark":{"type":"text","text":"W","font":"Liberation Serif","fontStyle":"italic","fontSize":27,"align":"left","baseline":"alphabetic","color":"#111111"},"encoding":{"x":{"datum":299,"type":"quantitative","scale":{"domain":[0,434],"nice":false,"zero":false},"axis":null},"y":{"datum":181.3,"type":"quantitative","scale":{"domain":[0,190],"reverse":true,"nice":false,"zero":false},"axis":null}}},
{"mark":{"type":"rule","color":"#111111","strokeWidth":1.2},"encoding":{"x":{"datum":297.3,"type":"quantitative","scale":{"domain":[0,434],"nice":false,"zero":false},"axis":null},"x2":{"datum":335.5},"y":{"datum":158.7,"type":"quantitative","scale":{"domain":[0,190],"reverse":true,"nice":false,"zero":false},"axis":null}}},
{"mark":{"type":"text","text":")","font":"Lato","fontWeight":300,"fontSize":60,"align":"center","baseline":"middle","color":"#111111"},"encoding":{"x":{"datum":346.5,"type":"quantitative","scale":{"domain":[0,434],"nice":false,"zero":false},"axis":null},"y":{"datum":157.5,"type":"quantitative","scale":{"domain":[0,190],"reverse":true,"nice":false,"zero":false},"axis":null}}},
{"mark":{"type":"text","text":"− 1.37","font":"Liberation Serif","fontSize":19,"align":"left","baseline":"alphabetic","color":"#111111"},"encoding":{"x":{"datum":355,"type":"quantitative","scale":{"domain":[0,434],"nice":false,"zero":false},"axis":null},"y":{"datum":130.3,"type":"quantitative","scale":{"domain":[0,190],"reverse":true,"nice":false,"zero":false},"axis":null}}}
]
}
]
}
